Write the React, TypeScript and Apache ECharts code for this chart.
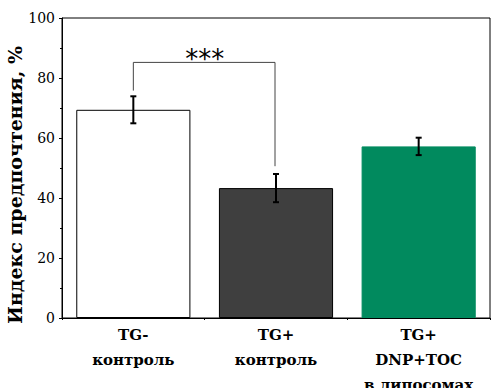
import React, { useEffect, useRef } from "react";
import * as echarts from "echarts";

const categories = ["TG-\nконтроль", "TG+\nконтроль", "TG+\nDNP+TOC\nв липосомах"];
const means = [69.4, 43.3, 57.2];
const errors = [4.5, 4.7, 2.9];
const barColors = ["#ffffff", "#3f3f3f", "#018a5e"];
const barBorders = ["#000000", "#000000", "#018a5e"];
// significance bracket: [fromCategory, toCategory, topValue, leftLegEnd, rightLegEnd]
const bracket = [[0, 1, 85.2, 75.8, 50.6]];
const bracketLabel = "***";
const yTicks = [0, 20, 40, 60, 80, 100];

const FONT = "DejaVu Serif, serif";

export default function App() {
  const ref = useRef<HTMLDivElement>(null);
  useEffect(() => {
    const chart = echarts.init(ref.current!, null, { renderer: "svg" });
    chart.setOption({
      animation: false,
      grid: {
        left: 62,
        top: 18,
        right: 1,
        bottom: 70,
        show: true,
        borderColor: "#000",
        borderWidth: 1,
        outerBoundsMode: "none",
      },
      xAxis: [
        {
          type: "category",
          data: categories,
          axisLine: { lineStyle: { color: "#000", width: 1 } },
          axisTick: { alignWithLabel: true, length: 4, lineStyle: { color: "#000" } },
          axisLabel: {
            color: "#000",
            fontFamily: FONT,
            fontWeight: "bold",
            fontSize: 15,
            lineHeight: 25,
            margin: 4,
            interval: 0,
          },
        },
        {
          type: "value",
          min: 0,
          max: 3,
          interval: 1,
          position: "bottom",
          axisLine: { show: false },
          axisTick: { show: true, length: 2, lineStyle: { color: "#000" } },
          axisLabel: { show: false },
          splitLine: { show: false },
        },
      ],
      yAxis: {
        type: "value",
        min: yTicks[0],
        max: yTicks[yTicks.length - 1],
        interval: 20,
        name: "Индекс предпочтения, %",
        nameLocation: "middle",
        nameGap: 38,
        nameMoveOverlap: false,
        nameTextStyle: {
          color: "#000",
          fontFamily: FONT,
          fontWeight: "bold",
          fontSize: 19,
          padding: [0, 34, 0, 0],
        },
        axisLine: { show: true, lineStyle: { color: "#000" } },
        axisTick: { show: true, length: 3, lineStyle: { color: "#000" } },
        minorTick: { show: true, splitNumber: 2, length: 2, lineStyle: { color: "#000" } },
        splitLine: { show: false },
        axisLabel: { color: "#000", fontFamily: FONT, fontSize: 14, margin: 7 },
      },
      series: [
        {
          type: "bar",
          barWidth: "80%",
          data: means.map((v, i) => ({
            value: v,
            itemStyle: { color: barColors[i], borderColor: barBorders[i], borderWidth: 1 },
          })),
          z: 2,
        },
        {
          type: "custom",
          z: 5,
          data: means.map((m, i) => [i, m - errors[i], m + errors[i]]),
          renderItem: (params: any, api: any) => {
            const x = api.value(0);
            const lo = api.coord([x, api.value(1)]);
            const hi = api.coord([x, api.value(2)]);
            const hw = 3;
            const st = { stroke: "#000", lineWidth: 2 };
            return {
              type: "group",
              children: [
                { type: "line", shape: { x1: lo[0], y1: lo[1], x2: hi[0], y2: hi[1] }, style: st },
                { type: "line", shape: { x1: lo[0] - hw, y1: lo[1], x2: lo[0] + hw, y2: lo[1] }, style: st },
                { type: "line", shape: { x1: hi[0] - hw, y1: hi[1], x2: hi[0] + hw, y2: hi[1] }, style: st },
              ],
            };
          },
        },
        {
          type: "custom",
          z: 6,
          data: bracket,
          renderItem: (params: any, api: any) => {
            const a = api.coord([api.value(0), api.value(2)]);
            const b = api.coord([api.value(1), api.value(2)]);
            const la = api.coord([api.value(0), api.value(3)]);
            const lb = api.coord([api.value(1), api.value(4)]);
            const st = { stroke: "#444", lineWidth: 1, fill: null };
            return {
              type: "group",
              children: [
                {
                  type: "polyline",
                  shape: { points: [[la[0], la[1]], [a[0], a[1]], [b[0] - 1, b[1]], [lb[0] - 1, lb[1]]] },
                  style: st,
                },
                {
                  type: "text",
                  x: (a[0] + b[0]) / 2,
                  y: a[1] + 10,
                  style: {
                    text: bracketLabel,
                    fill: "#000",
                    fontFamily: "DejaVu Sans",
                    fontSize: 26,
                    align: "center",
                    verticalAlign: "bottom",
                  },
                },
              ],
            };
          },
        },
      ],
    });
    return () => chart.dispose();
  }, []);
  return <div ref={ref} style={{ width: 491, height: 388, position: "absolute", left: 0, top: 0 }} />;
}
